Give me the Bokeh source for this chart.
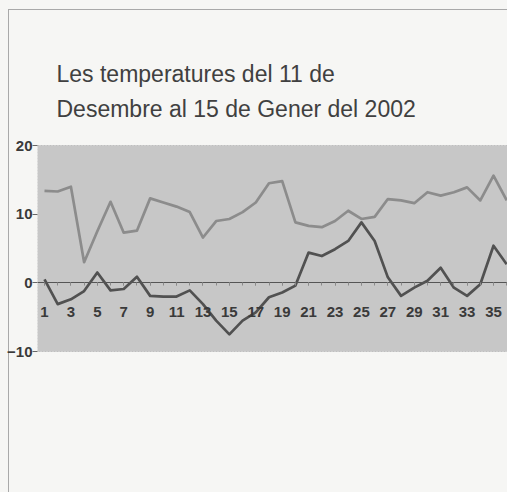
from bokeh.plotting import figure
from bokeh.models import Range1d, FixedTicker, Label, ColumnDataSource, BoxAnnotation
from bokeh.embed import file_html
from bokeh.resources import INLINE

title_lines = ["Les temperatures del 11 de", "Desembre al 15 de Gener del 2002"]
days = list(range(1, 37))
tmax = [13.4, 13.3, 14.0, 3.0, 7.5, 11.8, 7.3, 7.6, 12.3, 11.7, 11.1, 10.3,
        6.6, 9.0, 9.3, 10.3, 11.7, 14.5, 14.8, 8.8, 8.3, 8.1, 9.0, 10.5,
        9.3, 9.6, 12.2, 12.0, 11.6, 13.2, 12.7, 13.2, 13.9, 12.0, 15.6, 12.0]
tmin = [0.5, -3.1, -2.4, -1.2, 1.5, -1.1, -0.9, 0.9, -1.9, -2.0, -2.0, -1.1,
        -3.1, -5.5, -7.5, -5.5, -4.3, -2.1, -1.4, -0.4, 4.4, 3.9, 4.9, 6.1,
        8.8, 6.1, 0.8, -1.9, -0.7, 0.3, 2.2, -0.7, -1.9, -0.2, 5.4, 2.7]
x_labels = ["1", "3", "5", "7", "9", "11", "13", "15", "17", "19", "21", "23",
            "25", "27", "29", "31", "33", "35"]
y_ticks = [-10, 0, 10, 20]
y_min, y_max = -10, 20

# layout (pixels)
W, H = 507, 492
LEFT = 37            # space for the value axis
TOP_PX = 145         # canvas y of the top of the grey plot area
PLOT_H = 206         # height of the grey plot area
pxu = PLOT_H / (y_max - y_min)
y_top = y_max + TOP_PX / pxu
y_bot = y_min - (H - TOP_PX - PLOT_H) / pxu
x0, x1 = 0.47, 36.06
pxd = (W - LEFT) / (x1 - x0)

src = ColumnDataSource(dict(day=days, tmax=tmax, tmin=tmin))

p = figure(width=W, height=H, output_backend="svg", toolbar_location=None,
           x_range=Range1d(x0, x1), y_range=Range1d(y_bot, y_top),
           min_border_left=LEFT, min_border_right=0, min_border_top=0,
           min_border_bottom=0)
p.background_fill_color = None
p.border_fill_color = None
p.outline_line_color = None
p.grid.visible = False
p.styles = {"background-color": "#f6f6f4",
            "box-shadow": "inset 8px 9px 0 #f6f6f4, inset 9px 10px 0 #a9a9a9"}

p.add_layout(BoxAnnotation(bottom=y_min, top=y_max, fill_color="#c7c7c7",
                           fill_alpha=1.0, line_color="#777777", line_width=1,
                           line_dash="2 1", level="underlay"))

xticks = [int(s) for s in x_labels]
xa = p.xaxis[0]
xa.fixed_location = 0
xa.ticker = FixedTicker(ticks=xticks, minor_ticks=days)
xa.major_label_overrides = {t: s for t, s in zip(xticks, x_labels)}
xa.axis_line_color = "#555555"
xa.axis_line_width = 1
xa.major_tick_line_color = "#8a8a8a"
xa.minor_tick_line_color = "#8a8a8a"
xa.major_tick_in = 0
xa.major_tick_out = 3
xa.minor_tick_in = 0
xa.minor_tick_out = 3
xa.major_label_standoff = 21
xa.major_label_text_font = "Liberation Sans"
xa.major_label_text_font_style = "bold"
xa.major_label_text_font_size = "15px"
xa.major_label_text_color = "#3a3a3a"

ya = p.yaxis[0]
ya.ticker = FixedTicker(ticks=y_ticks, minor_ticks=[])
ya.axis_line_color = None
ya.major_tick_line_color = "#666666"
ya.major_tick_in = 0
ya.major_tick_out = 5
ya.major_label_standoff = 0
ya.major_label_text_font = "Liberation Sans"
ya.major_label_text_font_style = "bold"
ya.major_label_text_font_size = "15px"
ya.major_label_text_color = "#3a3a3a"

p.line("day", "tmax", source=src, line_color="#8c8c8c", line_width=2.7,
       line_join="round")
p.line("day", "tmin", source=src, line_color="#515151", line_width=2.7,
       line_join="round")

title_base_px = [73, 108]   # canvas y of the title baselines
for t, by in zip(title_lines, title_base_px):
    p.add_layout(Label(x=x0 + 19 / pxd, y=y_max + (TOP_PX - by) / pxu, text=t,
                       text_font="Liberation Sans", text_font_size="23px",
                       text_color="#404040", text_baseline="alphabetic"))

open("out.html", "w").write(file_html(p, INLINE))
